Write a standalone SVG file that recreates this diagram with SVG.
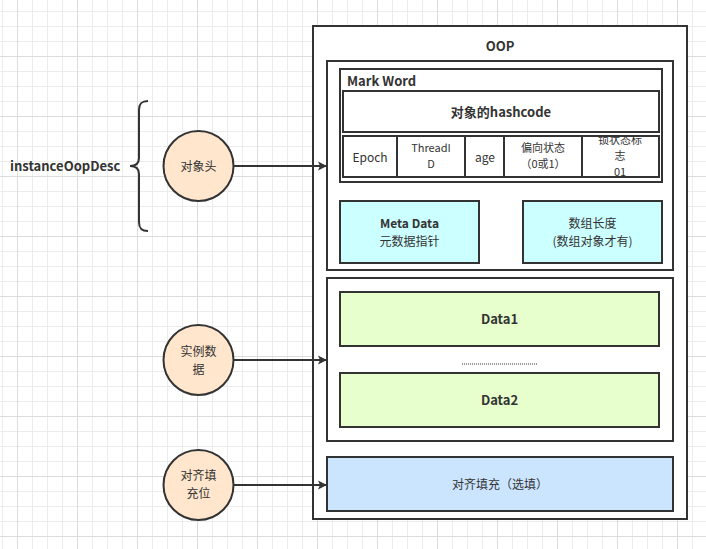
<svg xmlns="http://www.w3.org/2000/svg" width="706" height="549" viewBox="0 0 706 549">
<defs>
<pattern id="minor" width="15" height="15" patternUnits="userSpaceOnUse" x="2" y="11">
<path d="M0 0.5H15M0.5 0V15" fill="none" stroke="#ececec" stroke-width="1"/>
</pattern>
<pattern id="major" width="60" height="60" patternUnits="userSpaceOnUse" x="17" y="56">
<path d="M0 0.5H60M0.5 0V60" fill="none" stroke="#dcdcdc" stroke-width="1"/>
</pattern>
<marker id="arr" markerWidth="10" markerHeight="10" refX="9" refY="5" orient="auto" markerUnits="userSpaceOnUse">
<path d="M0 0.5L9 5L0 9.5L2 5Z" fill="#333"/>
</marker>
</defs>
<style>
.box{stroke:#333;stroke-width:2}
.t{font-family:"Noto Sans CJK SC","Open Sans",sans-serif;font-size:12px;fill:#333;text-anchor:middle}
.s{font-size:11px}
.b{font-weight:bold;font-size:13px}
.m{font-weight:bold;font-size:12px}
.circ{fill:#FFE6CC;stroke:#333;stroke-width:2}
</style>
<rect width="706" height="549" fill="#fff"/>
<rect width="706" height="549" fill="url(#minor)"/>
<rect width="706" height="549" fill="url(#major)"/>

<g id="oop">
<rect x="313" y="26" width="374" height="493" class="box" fill="#fff"/>
<text class="t b" x="500" y="51">OOP</text>
</g>
<g id="header">
<rect x="327" y="61" width="346" height="209" class="box" fill="#fff"/>
</g>
<g id="markword">
<rect x="340" y="69" width="322" height="113" class="box" fill="#fff"/>
<text class="t b" x="347" y="86" style="text-anchor:start">Mark Word</text>
<rect x="343" y="91" width="316" height="41" class="box" fill="#fff"/>
<text class="t b" x="501" y="117">对象的hashcode</text>
<rect x="343" y="136" width="316" height="41" class="box" fill="#fff"/>
<path d="M397 136V177M465 136V177M504 136V177M582 136V177" stroke="#333" stroke-width="2"/>
<text class="t" x="370" y="162">Epoch</text>
<text class="t s" x="431" y="152">ThreadI</text>
<text class="t s" x="431" y="168">D</text>
<text class="t" x="485" y="162">age</text>
<text class="t s" x="543" y="152">偏向状态</text>
<text class="t s" x="543" y="168">（0或1）</text>
<svg x="582" y="137" width="77" height="39" overflow="hidden">
<text class="t s" x="38" y="7">锁状态标</text>
<text class="t s" x="38" y="23">志</text>
<text class="t s" x="38" y="39">01</text>
</svg>
</g>
<g id="metadata">
<rect x="340" y="201" width="139" height="62" class="box" fill="#CCFFFF"/>
<text class="t m" x="409.5" y="228">Meta Data</text>
<text class="t" x="409.5" y="246">元数据指针</text>
</g>
<g id="arraylen">
<rect x="523" y="201" width="139" height="62" class="box" fill="#CCFFFF"/>
<text class="t" x="592.5" y="228">数组长度</text>
<text class="t" x="592.5" y="246">(数组对象才有)</text>
</g>
<g id="instance">
<rect x="327" y="278" width="346" height="163" class="box" fill="#fff"/>
<line x1="462" y1="364" x2="537" y2="364" stroke="#333" stroke-width="1" stroke-dasharray="1,1"/>
</g>
<g id="data1">
<rect x="340" y="292" width="319" height="54" class="box" fill="#E6FFCC"/>
<text class="t b" x="499.5" y="324">Data1</text>
</g>
<g id="data2">
<rect x="340" y="373" width="319" height="54" class="box" fill="#E6FFCC"/>
<text class="t b" x="499.5" y="405">Data2</text>
</g>
<g id="padding">
<rect x="327" y="457" width="346" height="54" class="box" fill="#CCE5FF"/>
<text class="t" x="500" y="489">对齐填充（选填）</text>
</g>

<g id="brace">
<path d="M148 101C141 101 139 104 139 110V158C139 163 136 166 130 166C136 166 139 169 139 174V222C139 228 141 231 148 231" fill="none" stroke="#333" stroke-width="2"/>
<text class="t b" x="10" y="171" style="text-anchor:start">instanceOopDesc</text>
</g>
<g id="c-header">
<circle cx="198.5" cy="166" r="35" class="circ"/>
<text class="t" x="198.5" y="171">对象头</text>
</g>
<g id="c-instance">
<circle cx="198.5" cy="360" r="35" class="circ"/>
<text class="t" x="198.5" y="356">实例数</text>
<text class="t" x="198.5" y="374">据</text>
</g>
<g id="c-padding">
<circle cx="198.5" cy="485" r="35" class="circ"/>
<text class="t" x="198.5" y="480">对齐填</text>
<text class="t" x="198.5" y="498">充位</text>
</g>
<g id="connectors">
<line x1="234" y1="166" x2="327" y2="166" stroke="#333" stroke-width="2" marker-end="url(#arr)"/>
<line x1="234" y1="360" x2="327" y2="360" stroke="#333" stroke-width="2" marker-end="url(#arr)"/>
<line x1="234" y1="485" x2="327" y2="485" stroke="#333" stroke-width="2" marker-end="url(#arr)"/>
</g>
</svg>
